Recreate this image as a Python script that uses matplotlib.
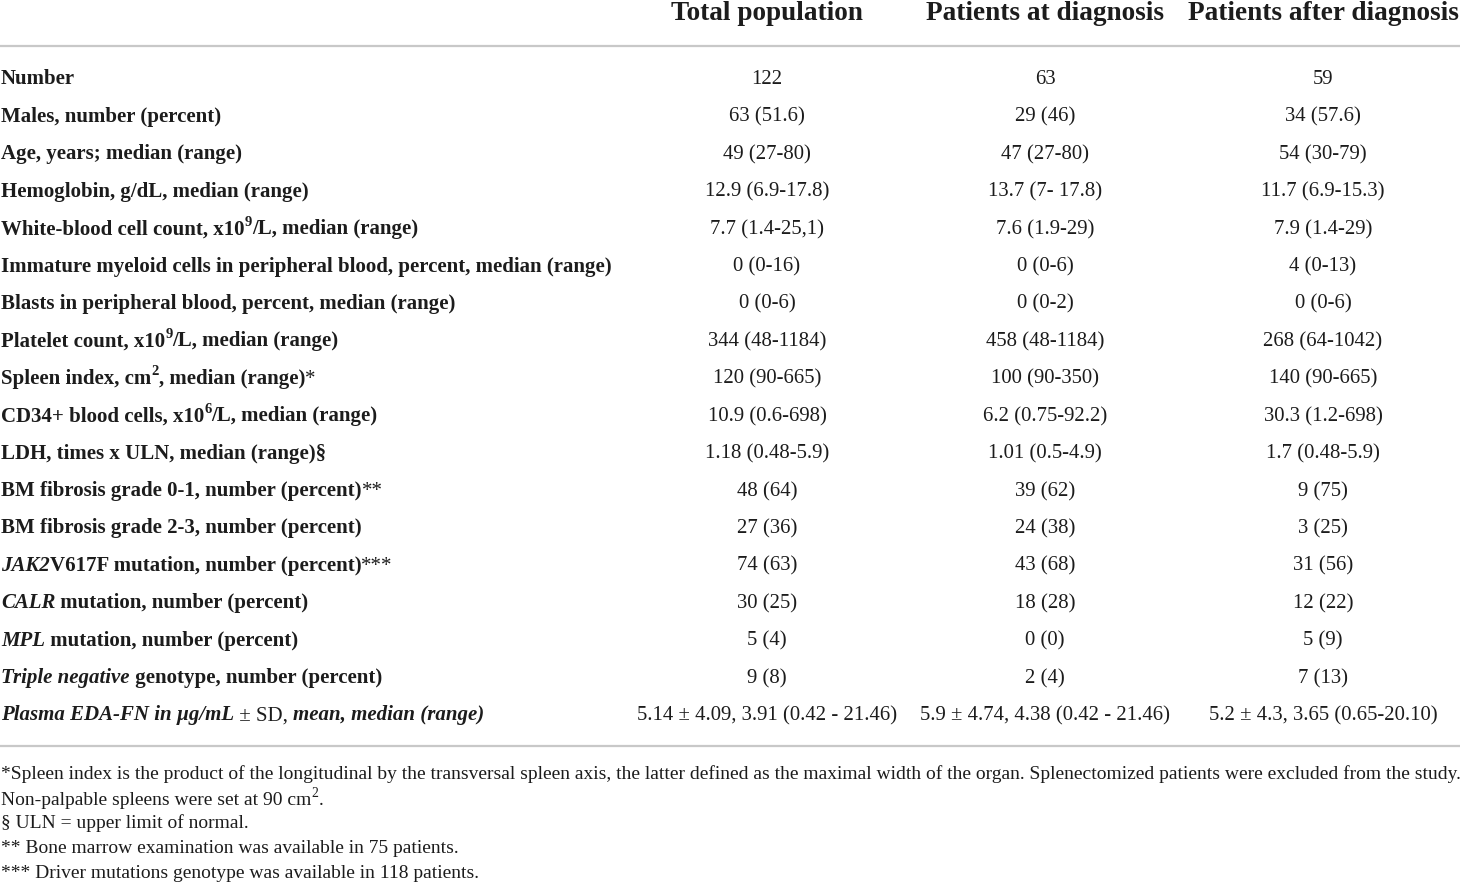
import matplotlib
matplotlib.use("Agg")
import matplotlib.pyplot as plt

# ---------------- data ----------------
col_headers = ["Total population", "Patients at diagnosis", "Patients after diagnosis"]

# '_' toggles italic, '~' toggles regular weight, '^x' makes the next character a superscript
row_labels = [
    "Number",
    "Males, number (percent)",
    "Age, years; median (range)",
    "Hemoglobin, g/dL, median (range)",
    "White-blood cell count, x10^9/L, median (range)",
    "Immature myeloid cells in peripheral blood, percent, median (range)",
    "Blasts in peripheral blood, percent, median (range)",
    "Platelet count, x10^9/L, median (range)",
    "Spleen index, cm^2, median (range)~*~",
    "CD34+ blood cells, x10^6/L, median (range)",
    "LDH, times x ULN, median (range)§",
    "BM fibrosis grade 0-1, number (percent)~**~",
    "BM fibrosis grade 2-3, number (percent)",
    "_JAK2_V617F mutation, number (percent)~***~",
    "_CALR_ mutation, number (percent)",
    "_MPL_ mutation, number (percent)",
    "_Triple negative_ genotype, number (percent)",
    "_Plasma EDA-FN in µg/mL_~ ± SD, ~_mean, median (range)_",
]

total_population = [
    "122", "63 (51.6)", "49 (27-80)", "12.9 (6.9-17.8)", "7.7 (1.4-25,1)",
    "0 (0-16)", "0 (0-6)", "344 (48-1184)", "120 (90-665)", "10.9 (0.6-698)",
    "1.18 (0.48-5.9)", "48 (64)", "27 (36)", "74 (63)", "30 (25)", "5 (4)",
    "9 (8)", "5.14 ± 4.09, 3.91 (0.42 - 21.46)",
]
at_diagnosis = [
    "63", "29 (46)", "47 (27-80)", "13.7 (7- 17.8)", "7.6 (1.9-29)",
    "0 (0-6)", "0 (0-2)", "458 (48-1184)", "100 (90-350)", "6.2 (0.75-92.2)",
    "1.01 (0.5-4.9)", "39 (62)", "24 (38)", "43 (68)", "18 (28)", "0 (0)",
    "2 (4)", "5.9 ± 4.74, 4.38 (0.42 - 21.46)",
]
after_diagnosis = [
    "59", "34 (57.6)", "54 (30-79)", "11.7 (6.9-15.3)", "7.9 (1.4-29)",
    "4 (0-13)", "0 (0-6)", "268 (64-1042)", "140 (90-665)", "30.3 (1.2-698)",
    "1.7 (0.48-5.9)", "9 (75)", "3 (25)", "31 (56)", "12 (22)", "5 (9)",
    "7 (13)", "5.2 ± 4.3, 3.65 (0.65-20.10)",
]

footnotes = [
    "*Spleen index is the product of the longitudinal by the transversal spleen axis, "
    "the latter defined as the maximal width of the organ. Splenectomized patients were excluded from the study.",
    "Non-palpable spleens were set at 90 cm^2.",
    "§ ULN = upper limit of normal.",
    "** Bone marrow examination was available in 75 patients.",
    "*** Driver mutations genotype was available in 118 patients.",
]

# ---------------- layout / style ----------------
W, H = 1460, 884
FAM = "Liberation Serif"
TXT = "#1c1c1c"
RULE = "#c8c8c8"

fig = plt.figure(figsize=(W / 100, H / 100), dpi=100)
ax = fig.add_axes([0, 0, 1, 1])
ax.set_xlim(0, W)
ax.set_ylim(H, 0)
ax.axis("off")
R = fig.canvas.get_renderer()


def props(style, size):
    return dict(family=FAM, fontsize=size,
                fontweight="bold" if "b" in style else "normal",
                fontstyle="italic" if "i" in style else "normal",
                color=TXT)


def parse(markup, base):
    runs, cur, i = [], "", 0
    ital, reg = False, False

    def style():
        w = "r" if (reg or base == "r") else "b"
        return w + ("i" if ital else "")

    def flush():
        nonlocal cur
        if cur:
            runs.append((cur, style(), False))
            cur = ""

    while i < len(markup):
        c = markup[i]
        if c == "_":
            flush(); ital = not ital
        elif c == "~":
            flush(); reg = not reg
        elif c == "^":
            flush()
            runs.append((markup[i + 1], style(), True))
            i += 1
        else:
            cur += c
        i += 1
    flush()
    return runs


SUP_SCALE = 0.70
SUP_RAISE = 0.40


def run_width(text, style, size):
    p = props(style, size)
    t1 = ax.text(0, 0, "|" + text + "|", **p)
    t2 = ax.text(0, 0, "||", **p)
    w = t1.get_window_extent(R).width - t2.get_window_extent(R).width
    t1.remove(); t2.remove()
    return w


def runs_width(runs, size):
    return sum(run_width(t, s, size * (SUP_SCALE if sup else 1)) for t, s, sup in runs)


def draw_runs(x, y, runs, size, ha="left"):
    widths = [run_width(t, s, size * (SUP_SCALE if sup else 1)) for t, s, sup in runs]
    tot = sum(widths)
    if ha == "center":
        x -= tot / 2
    for (t, s, sup), w in zip(runs, widths):
        if sup:
            ax.text(x, y - size * 100 / 72 * SUP_RAISE, t, va="baseline", ha="left",
                    **props(s, size * SUP_SCALE))
        else:
            ax.text(x, y, t, va="baseline", ha="left", **props(s, size))
        x += w


def fit(runs, target):
    return 10 * target / runs_width(runs, 10)


# font sizes fitted to the reference widths
label_size = fit(parse(row_labels[5], "b"), 614)
value_size = fit(parse(total_population[-1], "r"), 260)
head_size = fit(parse(col_headers[2], "b"), 272)
foot_size = fit(parse(footnotes[0], "r"), 1457)

col_x = [767, 1045, 1323]

# header
for cx, h in zip(col_x, col_headers):
    draw_runs(cx, 20, parse(h, "b"), head_size, ha="center")

ax.plot([0, W], [46, 46], color=RULE, lw=1.6, solid_capstyle="butt")

row0, step = 84.5, 37.41
for i, lab in enumerate(row_labels):
    y = row0 + i * step
    draw_runs(1, y, parse(lab, "b"), label_size)
    for cx, col in zip(col_x, (total_population, at_diagnosis, after_diagnosis)):
        draw_runs(cx, y, parse(col[i], "r"), value_size, ha="center")

ax.plot([0, W], [746, 746], color=RULE, lw=1.6, solid_capstyle="butt")

foot_y = [779, 805, 828, 853, 878]
for y, f in zip(foot_y, footnotes):
    draw_runs(1, y, parse(f, "r"), foot_size)

fig.savefig("out.png", dpi=100, facecolor="white")
